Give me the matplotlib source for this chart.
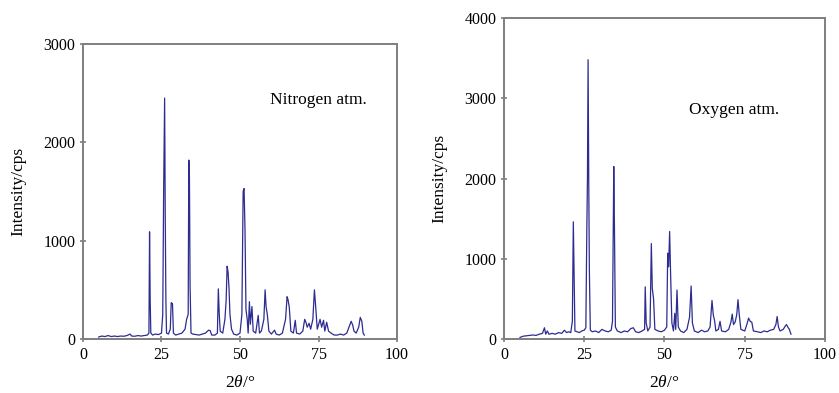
import matplotlib
matplotlib.use("Agg")
import matplotlib.pyplot as plt

plt.rcParams['font.family'] = ['Liberation Serif', 'DejaVu Serif']
plt.rcParams['mathtext.fontset'] = 'custom'
plt.rcParams['mathtext.it'] = 'Liberation Serif:italic'
plt.rcParams['mathtext.rm'] = 'Liberation Serif'

# XRD pattern under nitrogen (2theta in degrees, intensity in cps)
n2_theta = [5.0, 6, 7, 8, 9, 10, 11, 12, 13, 14, 15, 15.5, 16.5, 17.5, 18.5, 19.5, 20.5,
            21.0, 21.2, 21.4, 21.6, 22.2, 23, 24, 25.0, 25.4, 25.7, 26.0, 26.2, 26.4, 26.6,
            27.2, 27.8, 28.1, 28.5, 28.8, 29.5, 30.5, 31.5, 32.5, 33.0, 33.5, 33.7, 33.9,
            34.1, 34.4, 35, 36, 37, 38, 39, 40.0, 40.5, 41, 42, 42.8, 43.1, 43.4, 43.7, 44.5,
            45.2, 45.6, 45.9, 46.2, 46.5, 46.8, 47.3, 48, 49, 50, 50.6, 51.0, 51.3, 51.6,
            51.9, 52.3, 52.6, 53.0, 53.3, 53.8, 54.2, 55, 55.8, 56.2, 56.8, 57.6, 58.0, 58.3,
            58.7, 59.2, 60, 61, 61.5, 62.5, 63.5, 64.5, 65.0, 65.3, 65.7, 66.2, 67, 67.6,
            68.0, 69, 70, 70.6, 71.0, 71.4, 72, 72.5, 73.2, 73.7, 74.1, 74.6, 75.5, 76.0,
            76.6, 77.0, 77.6, 78.2, 79, 80, 81, 82, 83, 84, 84.8, 85.4, 85.9, 86.3, 87, 87.8,
            88.3, 88.8, 89.2, 89.6]
n2_counts = [20, 30, 25, 35, 25, 30, 25, 30, 28, 35, 50, 30, 28, 35, 30, 35, 40,
             60, 1090, 400, 60, 40, 50, 45, 60, 250, 1550, 2450, 1240, 400, 60,
             50, 100, 370, 360, 60, 40, 50, 60, 100, 200, 250, 1820, 1650,
             550, 60, 50, 45, 40, 50, 60, 90, 85, 40, 40, 60, 510, 250, 80, 60,
             200, 400, 740, 680, 520, 250, 100, 50, 40, 60, 250, 1500, 1530, 1100,
             300, 200, 60, 380, 150, 330, 80, 60, 240, 60, 80, 200, 500, 330,
             250, 80, 50, 90, 50, 40, 60, 200, 430, 400, 320, 80, 60, 190,
             60, 50, 80, 200, 170, 120, 160, 100, 200, 500, 330, 100, 200, 120,
             190, 80, 170, 80, 60, 40, 40, 50, 40, 60, 130, 180, 140, 80, 60, 120,
             220, 180, 60, 40]

# XRD pattern under oxygen
o2_theta = [5.0, 6, 7, 8, 9, 10, 11, 12, 12.6, 13.0, 13.5, 14, 15, 16, 17, 18, 18.8, 19.5,
            20.2, 20.8, 21.3, 21.6, 21.8, 22.1, 22.8, 23.5, 24.2, 25.0, 25.5, 25.8, 26.0,
            26.2, 26.4, 26.6, 26.9, 27.5, 28.5, 29.5, 30.5, 31.5, 32.5, 33.4, 33.8, 34.0,
            34.2, 34.4, 34.7, 35.3, 36.5, 37.5, 38.5, 39.5, 40.3, 41, 42, 43, 43.8, 44.0,
            44.3, 44.8, 45.5, 45.9, 46.2, 46.6, 47.0, 48, 49, 50, 50.7, 51.0, 51.3, 51.6,
            51.9, 52.3, 52.8, 53.2, 53.5, 53.9, 54.3, 55, 56, 57, 57.8, 58.3, 58.7, 59.3,
            60.5, 61.5, 62.5, 63.5, 64.2, 64.8, 65.2, 65.6, 66.0, 66.8, 67.3, 67.8, 69, 70,
            70.7, 71.1, 71.5, 72.0, 72.5, 72.9, 73.3, 73.8, 75, 75.8, 76.2, 76.7, 77.2,
            77.7, 79, 80, 81, 82, 83, 84, 84.7, 85.1, 85.5, 86, 87, 87.6, 88.0, 88.4, 88.9,
            89.4]
o2_counts = [20, 35, 40, 45, 50, 45, 60, 70, 140, 60, 100, 60, 70, 60, 80, 70, 110, 80,
             90, 80, 220, 1460, 880, 100, 90, 80, 100, 110, 140, 1340, 2000,
             3480, 2000, 840, 110, 90, 100, 80, 120, 100, 90, 110, 220, 1240,
             2150, 1440, 150, 100, 80, 100, 90, 130, 140, 90, 80, 100, 120, 650,
             200, 100, 150, 1190, 630, 500, 120, 100, 90, 110, 150, 1070, 900, 1340,
             820, 200, 100, 320, 120, 610, 150, 100, 80, 120, 270, 660, 200, 100,
             80, 110, 90, 100, 150, 480, 300, 230, 100, 120, 220, 100, 90, 120,
             210, 310, 180, 210, 300, 490, 300, 120, 100, 200, 260, 220, 210,
             100, 90, 80, 100, 90, 110, 120, 180, 280, 150, 100, 120, 160, 180, 150, 120,
             60]

x_ticks = [0, 25, 50, 75, 100]
line_color = '#2c2c92'
frame_color = '#7f7f7f'

fig = plt.figure(figsize=(8.39, 3.93), dpi=100)
ax1 = fig.add_axes([0.0989, 0.1374, 0.3743, 0.7506])
ax2 = fig.add_axes([0.6007, 0.1374, 0.3826, 0.8168])


def style_axis(ax, ymax, ystep):
    ax.set_xlim(0, 100)
    ax.set_ylim(0, ymax)
    ax.set_xticks(x_ticks)
    ax.set_yticks(range(0, ymax + 1, ystep))
    for sp in ax.spines.values():
        sp.set_color(frame_color)
        sp.set_linewidth(1.4)
    ax.tick_params(direction='inout', length=5, width=1.2, color=frame_color,
                   labelsize=11.5, pad=3)
    ax.set_xlabel(r'2$\it{\theta}$/°', fontsize=12.5, labelpad=9)
    ax.set_ylabel('Intensity/cps', fontsize=12.5, labelpad=12)


ax1.plot(n2_theta, n2_counts, color=line_color, lw=0.9)
style_axis(ax1, 3000, 1000)
ax1.text(59.5, 2430, 'Nitrogen atm.', fontsize=12.5, va='center')

ax2.plot(o2_theta, o2_counts, color=line_color, lw=0.9)
style_axis(ax2, 4000, 1000)
ax2.text(57.5, 2850, 'Oxygen atm.', fontsize=12.5, va='center')

fig.savefig('out.png', dpi=100)
